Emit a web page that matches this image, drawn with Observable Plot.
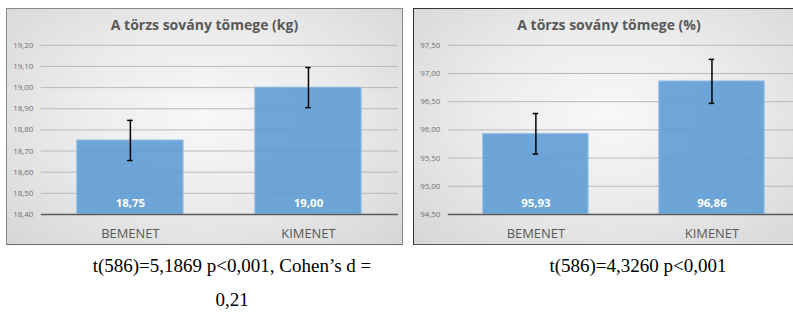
<!DOCTYPE html>
<html>
<head>
<meta charset="utf-8">
<script src="https://cdn.jsdelivr.net/npm/d3@7"></script>
<script src="https://cdn.jsdelivr.net/npm/@observablehq/plot@0.6"></script>
<style>
  html, body { margin: 0; padding: 0; background: #fff; width: 793px; height: 313px; overflow: hidden; }
  .panel {
    position: absolute; top: 8px; height: 237px; box-sizing: border-box;
    background: radial-gradient(ellipse at 50% 45%, #f8f8f8 0%, #ececec 45%, #d6d6d6 100%);
  }
  #p1 { left: 6px; width: 397px; border: 1.5px solid #8a8a8a; border-bottom-color: #6a6a6a; }
  #p2 { left: 413px; width: 392px; border: 1.5px solid #333; border-bottom-color: #555; }
  .panel svg { position: absolute; left: 0; top: 0; }
  .title {
    position: absolute; left: 0; right: 0; top: 6px; text-align: center;
    font-family: "Open Sans", sans-serif; font-weight: bold; font-size: 14px; color: #595959;
  }
  .cap {
    position: absolute; font-family: "Liberation Serif", "Times New Roman", serif; font-size: 19px;
    color: #000; text-align: center; line-height: 34px; white-space: nowrap;
  }
</style>
</head>
<body>
<div class="panel" id="p1"><div class="title">A törzs sovány tömege (kg)</div></div>
<div class="panel" id="p2"><div class="title">A törzs sovány tömege (%)</div></div>
<div class="cap" id="c1" style="left:82px; top:249px; width:300px;">t(586)=5,1869 p&lt;0,001, Cohen’s d =<br>0,21</div>
<div class="cap" id="c2" style="left:518px; top:249px; width:240px;">t(586)=4,3260 p&lt;0,001</div>
<script>
// ---- data ----
const categories = ["BEMENET", "KIMENET"];
const kgMeans = [18.75, 19.00];
const kgErrors = [0.095, 0.095];
const kgTicks = [18.4, 18.5, 18.6, 18.7, 18.8, 18.9, 19.0, 19.1, 19.2];
const pctMeans = [95.93, 96.86];
const pctErrors = [0.36, 0.39];
const pctTicks = [94.5, 95.0, 95.5, 96.0, 96.5, 97.0, 97.5];

const fmt = v => v.toFixed(2).replace(".", ",");

// shrink the band-wide tick to a short cap centred on the band
function capRender(half) {
  return (index, scales, values, dimensions, context, next) => {
    const g = next(index, scales, values, dimensions, context);
    d3.select(g).selectAll("line").each(function() {
      const x1 = +this.getAttribute("x1"), x2 = +this.getAttribute("x2");
      const cx = (x1 + x2) / 2;
      this.setAttribute("x1", cx - half);
      this.setAttribute("x2", cx + half);
    });
    return g;
  };
}

function chart(means, errors, ticks, width) {
  const data = categories.map((c, i) => ({cat: c, v: means[i], e: errors[i]}));
  const y0 = ticks[0], y1 = ticks[ticks.length - 1];
  const capHalf = 2.75;
  return Plot.plot({
    width, height: 237,
    marginTop: 36, marginBottom: 31, marginLeft: 34, marginRight: 4,
    style: {background: "transparent", overflow: "visible"},
    x: {domain: categories, paddingInner: 0.4, paddingOuter: 0.2, label: null},
    y: {domain: [y0, y1], label: null},
    marks: [
      Plot.gridY(ticks, {stroke: "#b8b8b8", strokeOpacity: 1, strokeWidth: 1}),
      Plot.axisY(ticks, {tickSize: 0, tickPadding: 8, tickFormat: fmt, fontSize: 8, fill: "#707070",
        fontFamily: "Open Sans", label: null}),
      Plot.axisX({tickSize: 0, tickPadding: 14, fontSize: 13, fill: "#595959", fontFamily: "Open Sans", label: null}),
      Plot.barY(data, {x: "cat", y1: () => y0, y2: "v", fill: "#5b9bd5", fillOpacity: 0.88,
        stroke: "#9cc3e8", strokeWidth: 1}),
      Plot.ruleY([y0], {stroke: "#595959", strokeWidth: 1.5}),
      Plot.ruleX(data, {x: "cat", y1: d => d.v - d.e, y2: d => d.v + d.e, stroke: "#000", strokeWidth: 1.5}),
      Plot.tickY(data, {x: "cat", y: d => d.v + d.e, stroke: "#000", strokeWidth: 1.5,
        render: capRender(capHalf)}),
      Plot.tickY(data, {x: "cat", y: d => d.v - d.e, stroke: "#000", strokeWidth: 1.5,
        render: capRender(capHalf)}),
      Plot.text(data, {x: "cat", y: () => y0, dy: -11, text: d => fmt(d.v), fill: "#fff",
        fontWeight: "bold", fontSize: 11.5, fontFamily: "Open Sans"})
    ]
  });
}

document.getElementById("p1").appendChild(chart(kgMeans, kgErrors, kgTicks, 397));
document.getElementById("p2").appendChild(chart(pctMeans, pctErrors, pctTicks, 392));
</script>
</body>
</html>
